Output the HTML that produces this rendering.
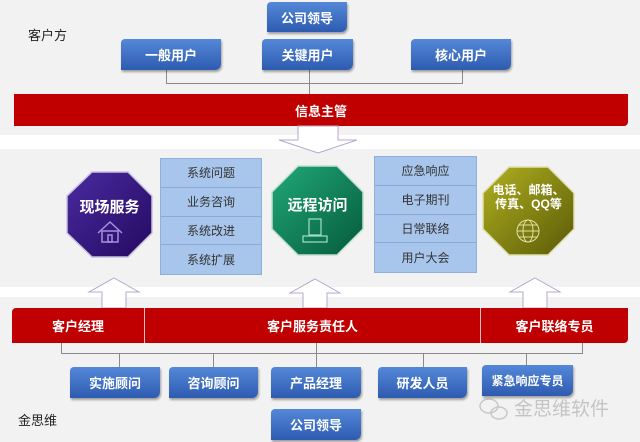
<!DOCTYPE html>
<html><head><meta charset="utf-8"><style>
*{margin:0;padding:0;box-sizing:border-box}
body{width:640px;height:442px;background:#fff;position:relative;overflow:hidden;font-family:"Liberation Sans","Noto Sans CJK SC",sans-serif}
.a{position:absolute}
.panel{position:absolute;left:0;width:640px;background:#f2f2f2}
.bx{position:absolute;height:31px;background:linear-gradient(#5588d8,#2d5bb0);color:#fff;font-weight:bold;font-size:13px;display:flex;align-items:center;justify-content:center;border-radius:4px 0 6px 0;box-shadow:1px 2px 2px rgba(0,0,0,.35)}
.bar{position:absolute;background:#c00000;color:#fff;font-weight:bold;font-size:13px;display:flex;align-items:center;justify-content:center;border-radius:0 0 4px 0}
.lst{position:absolute;background:#a8c6ec;border:1px solid #8fb0dc}
.lst div{height:25%;border-bottom:1px solid #8aa9d4;display:flex;align-items:center;justify-content:center;font-size:12px;color:#333}
.lst div:last-child{border-bottom:none}
.ln{position:absolute;background:#8a8a8a}
</style></head><body>
<div class="panel" style="top:0;height:135px"></div>
<div class="panel" style="top:149px;height:138px"></div>
<div class="panel" style="top:297px;height:145px"></div>

<div class="a" style="left:28px;top:25px;font-size:13px;color:#222">客户方</div>
<div class="a" style="left:18px;top:410px;font-size:13px;color:#222">金思维</div>

<div class="bx" style="left:267px;top:2px;width:80px;height:30px">公司领导</div>
<div class="ln" style="left:166px;top:70px;width:1px;height:13px"></div>
<div class="ln" style="left:309px;top:70px;width:1px;height:24px"></div>
<div class="ln" style="left:462px;top:70px;width:1px;height:13px"></div>
<div class="ln" style="left:166px;top:83px;width:297px;height:1px"></div>
<div class="bx" style="left:121px;top:39px;width:100px">一般用户</div>
<div class="bx" style="left:262px;top:39px;width:91px">关键用户</div>
<div class="bx" style="left:411px;top:39px;width:100px">核心用户</div>
<div class="bar" style="left:14px;top:94px;width:614px;height:32px">信息主管</div>

<svg class="a" style="left:0;top:0" width="640" height="442">
<defs>
<linearGradient id="gp" x1="0" y1="0" x2="1" y2="1"><stop offset="0" stop-color="#4a2aa0"/><stop offset="1" stop-color="#240a60"/></linearGradient>
<linearGradient id="gg" x1="0" y1="0" x2="1" y2="1"><stop offset="0" stop-color="#20a878"/><stop offset="1" stop-color="#065a3c"/></linearGradient>
<linearGradient id="go" x1="0" y1="0" x2="1" y2="1"><stop offset="0" stop-color="#b0b020"/><stop offset="1" stop-color="#5a5a08"/></linearGradient>
</defs>
<polygon points="298,126 338,126 338,140 357,140 318,153 279,140 298,140" fill="#fff" stroke="#b4a8cc" stroke-width="1"/>
<g fill="#fff" stroke="#b4a8cc" stroke-width="1">
<polygon points="114,278 139,292 126,292 126,308 102,308 102,292 89,292"/>
<polygon points="315,279 340,293 327,293 327,308 303,308 303,293 290,293"/>
<polygon points="535,278 560,292 547,292 547,308 523,308 523,292 510,292"/>
</g>
<polygon points="92,172 128,172 152,196 152,233 128,257 92,257 67,233 67,196" fill="url(#gp)" stroke="#c8c0e0" stroke-width="1.5"/>
<polygon points="298,166 337,166 363,192 363,229 337,255 298,255 272,229 272,192" fill="url(#gg)" stroke="#c0e0d0" stroke-width="1.5"/>
<polygon points="509,167 548,167 574,193 574,229 548,255 509,255 483,229 483,193" fill="url(#go)" stroke="#e0e0b0" stroke-width="1.5"/>
<g fill="none" stroke="#a98ee0" stroke-width="1.5">
<polyline points="98,233 110,222 122,233"/><rect x="102" y="231" width="16" height="11"/><rect x="108" y="235" width="4" height="7"/>
</g>
<g fill="none" stroke="#9fe0c8" stroke-width="1.2">
<rect x="309" y="219" width="12" height="16"/><rect x="303" y="236" width="24" height="6"/>
</g>
<g fill="none" stroke="#e0e0a0" stroke-width="1">
<circle cx="528" cy="231" r="11"/><ellipse cx="528" cy="231" rx="5" ry="11"/><line x1="517" y1="231" x2="539" y2="231"/><line x1="519" y1="225" x2="537" y2="225"/><line x1="519" y1="237" x2="537" y2="237"/>
</g>
<g fill="none" stroke="#c8c8c8" stroke-width="1.5">
<ellipse cx="489" cy="406" rx="9" ry="7"/><ellipse cx="499" cy="413" rx="8" ry="6"/>
</g>
</svg>
<div class="a" style="left:67px;top:196px;width:85px;text-align:center;color:#fff;font-weight:bold;font-size:15px">现场服务</div>
<div class="a" style="left:272px;top:194px;width:91px;text-align:center;color:#fff;font-weight:bold;font-size:15px">远程访问</div>
<div class="a" style="left:483px;top:183px;width:91px;text-align:center;color:#fff;font-weight:bold;font-size:12px;line-height:14px">电话、邮箱、<br>传真、QQ等</div>

<div class="lst" style="left:160px;top:158px;width:102px;height:117px"><div>系统问题</div><div>业务咨询</div><div>系统改进</div><div>系统扩展</div></div>
<div class="lst" style="left:374px;top:156px;width:103px;height:117px"><div>应急响应</div><div>电子期刊</div><div>日常联络</div><div>用户大会</div></div>

<div class="bar" style="left:12px;top:308px;width:616px;height:35px;border-radius:4px 0 4px 0"></div>
<div class="bar" style="left:12px;top:308px;width:132px;height:35px;background:none">客户经理</div>
<div class="bar" style="left:145px;top:308px;width:335px;height:35px;background:none">客户服务责任人</div>
<div class="bar" style="left:481px;top:308px;width:147px;height:35px;background:none">客户联络专员</div>
<div class="a" style="left:144px;top:308px;width:1px;height:35px;background:#f0c0c0"></div>
<div class="a" style="left:480px;top:308px;width:1px;height:35px;background:#f0c0c0"></div>

<div class="ln" style="left:61px;top:343px;width:1px;height:10px"></div>
<div class="ln" style="left:316px;top:343px;width:1px;height:24px"></div>
<div class="ln" style="left:582px;top:343px;width:1px;height:10px"></div>
<div class="ln" style="left:61px;top:353px;width:522px;height:1px"></div>
<div class="ln" style="left:119px;top:353px;width:1px;height:14px"></div>
<div class="ln" style="left:213px;top:353px;width:1px;height:14px"></div>
<div class="ln" style="left:423px;top:353px;width:1px;height:14px"></div>
<div class="ln" style="left:526px;top:353px;width:1px;height:12px"></div>

<div class="bx" style="left:70px;top:367px;width:90px">实施顾问</div>
<div class="bx" style="left:169px;top:367px;width:89px">咨询顾问</div>
<div class="bx" style="left:271px;top:367px;width:90px">产品经理</div>
<div class="bx" style="left:378px;top:367px;width:89px">研发人员</div>
<div class="bx" style="left:482px;top:365px;width:91px;font-size:12px">紧急响应专员</div>
<div class="bx" style="left:271px;top:409px;width:90px">公司领导</div>

<div class="a" style="left:514px;top:394px;font-size:19px;color:#c4c4c4">金思维软件</div>
</body></html>
